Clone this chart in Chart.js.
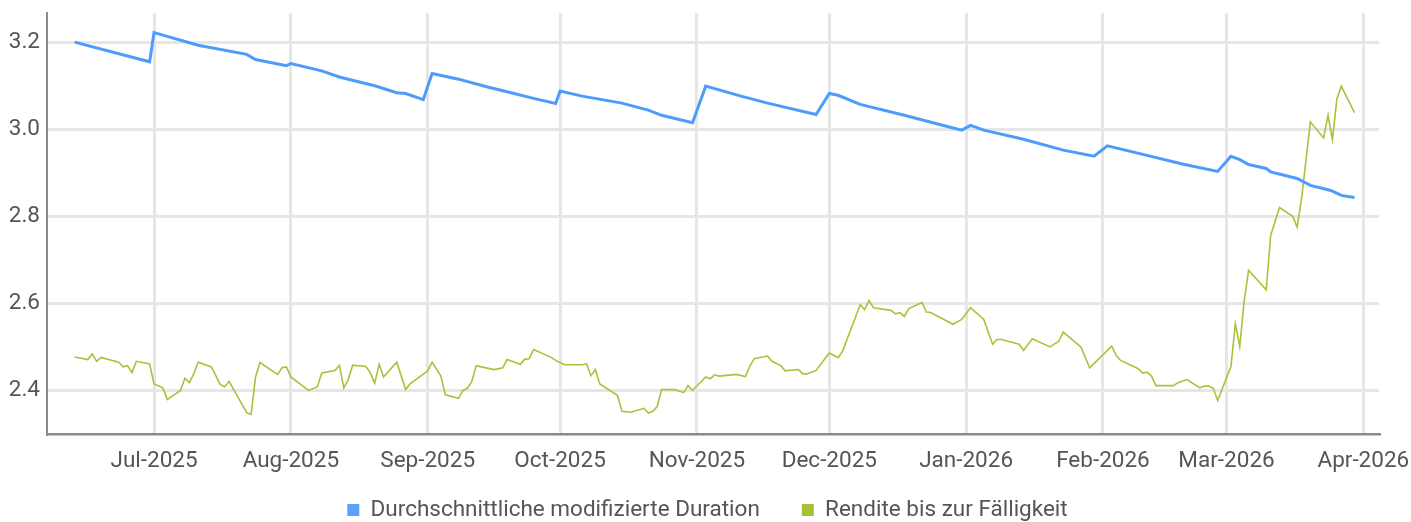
<!DOCTYPE html>
<html><head><meta charset="utf-8">
<script src="https://cdn.jsdelivr.net/npm/chart.js@4.4.1/dist/chart.umd.min.js"></script>
<style>html,body{margin:0;padding:0;background:#fff;}#wrap{width:1411px;height:522px;position:relative;}</style>
</head><body><div id="wrap"><canvas id="c"></canvas></div>
<script>
const seriesNames = ['Durchschnittliche modifizierte Duration', 'Rendite bis zur Fälligkeit'];

const durationDates = ['2025-06-13','2025-06-30','2025-07-01','2025-07-11','2025-07-22','2025-07-24','2025-07-31','2025-08-01','2025-08-08','2025-08-12','2025-08-14','2025-08-20','2025-08-25','2025-08-27','2025-08-31','2025-09-02','2025-09-08','2025-09-15','2025-09-19','2025-09-25','2025-09-30','2025-10-01','2025-10-06','2025-10-15','2025-10-21','2025-10-24','2025-10-31','2025-11-03','2025-11-11','2025-11-17','2025-11-28','2025-12-01','2025-12-03','2025-12-08','2025-12-18','2025-12-26','2025-12-31','2026-01-02','2026-01-05','2026-01-14','2026-01-23','2026-01-30','2026-02-02','2026-02-11','2026-02-19','2026-02-27','2026-03-02','2026-03-04','2026-03-06','2026-03-10','2026-03-11','2026-03-17','2026-03-20','2026-03-24','2026-03-25','2026-03-27','2026-03-30'];
const durationValues = [3.200,3.155,3.222,3.193,3.172,3.160,3.146,3.151,3.134,3.120,3.115,3.100,3.084,3.082,3.068,3.128,3.115,3.096,3.086,3.071,3.059,3.088,3.076,3.060,3.044,3.032,3.015,3.099,3.076,3.060,3.034,3.082,3.078,3.057,3.032,3.011,2.998,3.009,2.998,2.977,2.952,2.938,2.962,2.940,2.920,2.903,2.938,2.930,2.919,2.910,2.902,2.887,2.871,2.861,2.858,2.848,2.843];

const yieldDates = ['2025-06-13','2025-06-16','2025-06-17','2025-06-18','2025-06-19','2025-06-23','2025-06-24','2025-06-25','2025-06-26','2025-06-27','2025-06-30','2025-07-01','2025-07-03','2025-07-04','2025-07-07','2025-07-08','2025-07-09','2025-07-10','2025-07-11','2025-07-14','2025-07-16','2025-07-17','2025-07-18','2025-07-22','2025-07-23','2025-07-24','2025-07-25','2025-07-29','2025-07-30','2025-07-31','2025-08-01','2025-08-05','2025-08-07','2025-08-08','2025-08-11','2025-08-12','2025-08-13','2025-08-14','2025-08-15','2025-08-18','2025-08-19','2025-08-20','2025-08-21','2025-08-22','2025-08-25','2025-08-27','2025-08-28','2025-09-01','2025-09-02','2025-09-04','2025-09-05','2025-09-08','2025-09-09','2025-09-10','2025-09-11','2025-09-12','2025-09-16','2025-09-18','2025-09-19','2025-09-22','2025-09-23','2025-09-24','2025-09-25','2025-09-29','2025-09-30','2025-10-02','2025-10-06','2025-10-07','2025-10-08','2025-10-09','2025-10-10','2025-10-14','2025-10-15','2025-10-17','2025-10-20','2025-10-21','2025-10-22','2025-10-23','2025-10-24','2025-10-27','2025-10-29','2025-10-30','2025-10-31','2025-11-03','2025-11-04','2025-11-05','2025-11-06','2025-11-10','2025-11-12','2025-11-13','2025-11-14','2025-11-17','2025-11-18','2025-11-20','2025-11-21','2025-11-24','2025-11-25','2025-11-26','2025-11-28','2025-12-01','2025-12-03','2025-12-04','2025-12-05','2025-12-08','2025-12-09','2025-12-10','2025-12-11','2025-12-15','2025-12-16','2025-12-17','2025-12-18','2025-12-19','2025-12-22','2025-12-23','2025-12-24','2025-12-29','2025-12-31','2026-01-02','2026-01-05','2026-01-07','2026-01-08','2026-01-09','2026-01-13','2026-01-14','2026-01-16','2026-01-20','2026-01-22','2026-01-23','2026-01-27','2026-01-29','2026-02-03','2026-02-04','2026-02-05','2026-02-09','2026-02-10','2026-02-11','2026-02-12','2026-02-13','2026-02-17','2026-02-18','2026-02-20','2026-02-23','2026-02-24','2026-02-25','2026-02-26','2026-02-27','2026-03-02','2026-03-03','2026-03-04','2026-03-05','2026-03-06','2026-03-10','2026-03-11','2026-03-13','2026-03-16','2026-03-17','2026-03-18','2026-03-20','2026-03-23','2026-03-24','2026-03-25','2026-03-26','2026-03-27','2026-03-30'];
const yieldValues = [2.477,2.471,2.484,2.467,2.476,2.465,2.454,2.457,2.441,2.467,2.461,2.415,2.406,2.379,2.400,2.428,2.418,2.438,2.465,2.454,2.414,2.408,2.421,2.349,2.345,2.431,2.464,2.437,2.452,2.454,2.431,2.400,2.408,2.440,2.446,2.458,2.406,2.425,2.458,2.455,2.441,2.417,2.460,2.431,2.465,2.402,2.415,2.445,2.465,2.433,2.390,2.382,2.400,2.405,2.421,2.457,2.448,2.452,2.471,2.460,2.472,2.473,2.494,2.476,2.469,2.459,2.459,2.461,2.434,2.448,2.415,2.389,2.352,2.350,2.359,2.348,2.352,2.363,2.402,2.402,2.395,2.411,2.400,2.431,2.427,2.436,2.433,2.437,2.432,2.456,2.473,2.479,2.467,2.457,2.445,2.448,2.438,2.438,2.446,2.486,2.475,2.490,2.517,2.597,2.586,2.607,2.590,2.584,2.576,2.579,2.570,2.588,2.602,2.580,2.579,2.552,2.563,2.590,2.563,2.506,2.517,2.517,2.506,2.492,2.519,2.500,2.513,2.534,2.500,2.452,2.502,2.480,2.469,2.450,2.440,2.442,2.433,2.411,2.411,2.418,2.425,2.406,2.410,2.410,2.405,2.377,2.455,2.553,2.501,2.605,2.676,2.631,2.756,2.820,2.800,2.775,2.840,3.017,2.980,3.032,2.976,3.069,3.099,3.038];

const monthTicks = ['2025-07-01','2025-08-01','2025-09-01','2025-10-01','2025-11-01','2025-12-01','2026-01-01','2026-02-01','2026-03-01','2026-04-01'];
const monthLabels = ['Jul-2025','Aug-2025','Sep-2025','Oct-2025','Nov-2025','Dec-2025','Jan-2026','Feb-2026','Mar-2026','Apr-2026'];
const yTicks = [2.4, 2.6, 2.8, 3.0, 3.2];
const xRange = ['2025-06-07', '2026-04-05'];
const yRange = [2.3, 3.267];

function dayNum(s) { const p = s.split('-').map(Number); return Date.UTC(p[0], p[1] - 1, p[2]) / 86400000; }
const toPoints = (dates, vals) => dates.map((d, i) => ({ x: dayNum(d), y: vals[i] }));
const tickDays = monthTicks.map(dayNum);

const BLUE = '#4d9cfb', GREEN = '#a8c23a', TEXT = '#555555';
const FONT_SIZE = 22.5;
const FONT = { family: 'Roboto, "Noto Sans", sans-serif', size: FONT_SIZE };
const legendColors = ['#58a2f7', '#a6c03a'];
const LEGEND_PAD = 42;
const LEGEND_TOP = 510 - LEGEND_PAD - FONT_SIZE / 2;
const LEGEND_SHIFT_X = 18;

const legendPlacePlugin = {
  id: 'legendPlace',
  beforeInit(chart) {
    const lg = chart.legend;
    if (!lg) return;
    const fit = lg.fit.bind(lg);
    lg.fit = function () { fit(); this.height = 36; };
  },
  afterLayout(chart) {
    const lg = chart.legend;
    if (!lg) return;
    lg.top = LEGEND_TOP;
    lg.bottom = chart.height;
    lg.height = lg.bottom - lg.top;
    lg.left += LEGEND_SHIFT_X;
    lg.right += LEGEND_SHIFT_X;
  }
};

new Chart(document.getElementById('c'), {
  type: 'line',
  data: {
    datasets: [
      { label: seriesNames[0], data: toPoints(durationDates, durationValues), borderColor: BLUE, backgroundColor: BLUE, borderWidth: 3, pointRadius: 0, tension: 0 },
      { label: seriesNames[1], data: toPoints(yieldDates, yieldValues), borderColor: GREEN, backgroundColor: GREEN, borderWidth: 1.6, pointRadius: 0, tension: 0 }
    ]
  },
  options: {
    responsive: true, maintainAspectRatio: false, animation: false, devicePixelRatio: 1,
    layout: { padding: { top: 13, right: 32, left: 0, bottom: 0 } },
    plugins: {
      tooltip: { enabled: false },
      legend: {
        position: 'bottom',
        labels: {
          font: FONT, color: TEXT, boxWidth: 12, boxHeight: 12, padding: LEGEND_PAD,
          generateLabels: (chart) => chart.data.datasets.map((ds, i) => ({
            text: ds.label, fillStyle: legendColors[i], strokeStyle: legendColors[i], lineWidth: 0,
            hidden: false, datasetIndex: i, fontColor: TEXT
          }))
        }
      }
    },
    scales: {
      x: {
        type: 'linear',
        min: dayNum(xRange[0]) - 0.25, max: dayNum(xRange[1]) - 0.45,
        afterBuildTicks: (s) => { s.ticks = tickDays.map(v => ({ value: v })); },
        afterFit: (s) => { s.height = 52; s.paddingLeft = 0; s.paddingRight = 0; },
        ticks: { font: FONT, color: TEXT, padding: 14, maxRotation: 0, autoSkip: false,
          callback: (v) => { const i = tickDays.indexOf(v); return i >= 0 ? monthLabels[i] : ''; } },
        grid: { color: '#e6e6e6', lineWidth: 3, drawTicks: false },
        border: { color: '#8a8a8a', width: 2.5 }
      },
      y: {
        min: yRange[0], max: yRange[1],
        afterBuildTicks: (s) => { s.ticks = yTicks.map(v => ({ value: v })); },
        afterFit: (s) => { s.width = 47; s.paddingTop = 0; s.paddingBottom = 0; },
        ticks: { font: FONT, color: TEXT, padding: 7, callback: (v) => Number(v).toFixed(1) },
        grid: { color: '#e6e6e6', lineWidth: 3, drawTicks: false },
        border: { color: '#8a8a8a', width: 2 }
      }
    }
  },
  plugins: [legendPlacePlugin]
});
</script>
</body></html>
